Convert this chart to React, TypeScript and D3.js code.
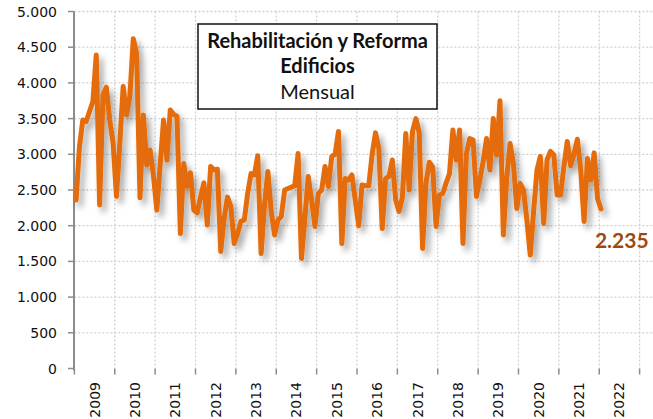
import React from 'react';
import * as d3 from 'd3';

const width = 653;
const height = 419;

// monthly series, Jan 2009 .. Jan 2022
const values = [
  2360, 3100, 3480, 3460, 3600, 3740, 4390, 2290, 3830, 3940, 3480, 3160,
  2410, 3150, 3950, 3550, 3810, 4620, 4410, 2390, 3550, 2850, 3060, 2700,
  2220, 2850, 3480, 2920, 3620, 3560, 3530, 1890, 2870, 2550, 2740, 2220,
  2180, 2400, 2600, 2010, 2830, 2780, 2790, 1640, 2100, 2400, 2270, 1750,
  1890, 2060, 2080, 2450, 2730, 2710, 2980, 1610, 2290, 2760, 2200, 1870,
  2080, 2130, 2500, 2520, 2540, 2560, 3010, 1540, 2100, 2690, 2360, 1990,
  2450, 2500, 2830, 2550, 2970, 3000, 3320, 1750, 2660, 2640, 2710, 2350,
  2000, 2570, 2560, 2560, 3000, 3300, 3080, 1960, 2660, 2690, 2920, 2360,
  2200, 2400, 3290, 2500, 3320, 3500, 3300, 1680, 2600, 2890, 2820, 1990,
  2430, 2450, 2600, 2730, 3340, 2920, 3340, 1750, 3000, 3220, 3200, 2410,
  2640, 2900, 3220, 2780, 3500, 2990, 3750, 1870, 2660, 3150, 2870, 2240,
  2590, 2500, 2080, 1590, 2200, 2780, 2970, 2030, 2920, 3040, 2990, 2430,
  2430, 2830, 3180, 2840, 3000, 3210, 2780, 2060, 2940, 2640, 3020, 2380,
  2235,
];

const years = ['2009', '2010', '2011', '2012', '2013', '2014', '2015',
  '2016', '2017', '2018', '2019', '2020', '2021', '2022'];

const yTicks = [0, 500, 1000, 1500, 2000, 2500, 3000, 3500, 4000, 4500, 5000];

const titleLines = ['Rehabilitación y Reforma', 'Edificios'];
const subtitle = 'Mensual';

const lineColor = '#E46C0A';
const gridColor = '#cfcfcf';
const axisColor = '#8c8c8c';

const plotRight = 653;

const fmt = (v: number) => d3.format(',')(v).replace(/,/g, '.');

const App = () => {
  const x = d3.scaleLinear().domain([-0.5, years.length * 12 - 0.5]).range([74.4, 639.6]);
  const y = d3.scaleLinear().domain([0, 5000]).range([368.5, 11.5]);

  const line = d3.line<number>()
    .x((d, i) => x(i))
    .y(d => y(d));

  const bounds = d3.range(years.length + 1).map(k => k * 12 - 0.5);
  const last = values.length - 1;

  return (
    <svg width={width} height={height} style={{ position: 'absolute', left: 0, top: 0 }}>
      <defs>
        <filter id="shadow" x="-10%" y="-10%" width="130%" height="130%">
          <feDropShadow dx="4" dy="5" stdDeviation="3" floodColor="#000" floodOpacity="0.35" />
        </filter>
        <filter id="axshadow" x="-5%" y="-100%" width="110%" height="400%">
          <feDropShadow dx="0" dy="2.5" stdDeviation="1.5" floodColor="#000" floodOpacity="0.4" />
        </filter>
      </defs>
      <rect width={width} height={height} fill="#fff" />

      {/* grid */}
      {yTicks.filter(t => t > 0).map(t => (
        <line key={t} x1={x(-0.5)} x2={plotRight} y1={y(t)} y2={y(t)}
          stroke={gridColor} strokeWidth={1.3} strokeDasharray="2 2" />
      ))}
      {bounds.slice(1).map(b => (
        <line key={b} x1={x(b)} x2={x(b)} y1={y(5000)} y2={y(0)}
          stroke={gridColor} strokeWidth={1.3} strokeDasharray="2 2" />
      ))}

      {/* y axis */}
      <line x1={74} x2={74} y1={y(5000)} y2={y(0) + 2} stroke={axisColor} strokeWidth={2} />
      {yTicks.map(t => (
        <g key={t} transform={`translate(0, ${y(t)})`}>
          <line x1={68} x2={74} stroke={axisColor} strokeWidth={1.5} />
          <text x={57} dy="0.36em" textAnchor="end" fontFamily="DejaVu Sans" fontSize={14} fill="#111">
            {fmt(t)}
          </text>
        </g>
      ))}

      {/* x axis */}
      <line x1={68} x2={plotRight} y1={y(0) + 1} y2={y(0) + 1} stroke={axisColor} strokeWidth={2.5}
        filter="url(#axshadow)" />
      {bounds.map(b => (
        <line key={b} x1={x(b)} x2={x(b)} y1={y(0)} y2={y(0) + 6} stroke={axisColor} strokeWidth={1.5} />
      ))}
      {years.map((yr, k) => (
        <text key={yr}
          transform={`translate(${x(k * 12 + 5.5)}, 382) rotate(-90)`}
          dy="0.36em" textAnchor="end" fontFamily="DejaVu Sans" fontSize={14} fill="#111">
          {yr}
        </text>
      ))}

      {/* series */}
      <path d={line(values) || ''} fill="none" stroke={lineColor} strokeWidth={5}
        strokeLinejoin="round" strokeLinecap="round" filter="url(#shadow)" />

      <text x={x(last) - 6} y={y(values[last]) + 39} fontFamily="Lato" fontWeight="bold"
        fontSize={21} fill="#9C4A10">
        {fmt(values[last])}
      </text>

      {/* title box */}
      <rect x={198} y={24} width={239} height={85} fill="#fff" stroke="#111" strokeWidth={1.5} />
      {titleLines.map((t, i) => (
        <text key={t} x={317.5} y={48 + i * 25} textAnchor="middle" fontFamily="Lato"
          fontWeight="bold" fontSize={20} fill="#111">
          {t}
        </text>
      ))}
      <text x={317.5} y={99} textAnchor="middle" fontFamily="Lato" fontSize={20} fill="#111">
        {subtitle}
      </text>
    </svg>
  );
};

export default App;
